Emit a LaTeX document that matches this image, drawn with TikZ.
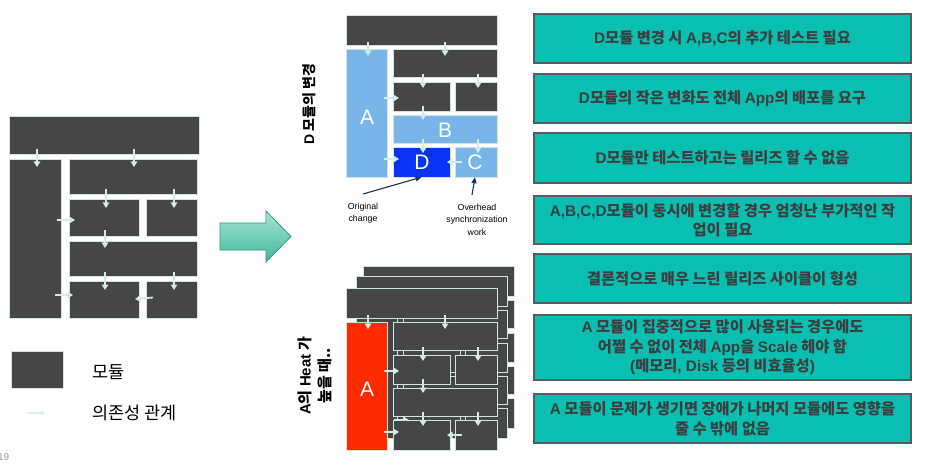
\documentclass[tikz,border=0pt]{standalone}
\usepackage{fontspec}
\setmainfont{Liberation Sans}
\newfontfamily\kr{Noto Sans CJK KR}
\usetikzlibrary{arrows.meta}
\definecolor{blk}{HTML}{464646}
\definecolor{mint}{HTML}{CDE6E0}
\definecolor{arr}{HTML}{D2ECE7}
\definecolor{lblue}{HTML}{79B5E8}
\definecolor{dblue}{HTML}{0A33F5}
\definecolor{hred}{HTML}{FF2A00}
\definecolor{tealbox}{HTML}{08BFB1}
\definecolor{boxtxt}{HTML}{3E3E3E}
\definecolor{boxedge}{HTML}{5A5A5A}
\definecolor{navy}{HTML}{17375E}
\definecolor{arrtop}{RGB}{168,228,214}
\definecolor{arrbot}{RGB}{64,184,160}
\definecolor{arredge}{RGB}{44,156,134}
\newcommand{\latn}[1]{{\rmfamily #1}}
\tikzset{
  mod/.style={fill=blk, draw=mint, line width=0.6pt},
  dep/.style={draw=arr, line width=1.8pt, -{Triangle[length=5.5pt,width=6.5pt]}},
  tbox/.style={fill=tealbox, draw=boxedge, line width=1.3pt, minimum width=377pt, inner sep=0pt,
    align=center, text=boxtxt, font=\kr\bfseries\fontsize{15.3}{19.5}\selectfont},
  blabel/.style={text=white, inner sep=0pt, font=\fontsize{21}{21}\selectfont},
  anno/.style={align=center, inner sep=0pt, font=\fontsize{8.8}{12.4}\selectfont},
  annoarrow/.style={draw=navy, line width=1.1pt, -{Triangle[length=6pt,width=5pt]}},
  vlabel/.style={rotate=90, align=center, inner sep=0pt, font=\kr\bfseries\fontsize{14}{20}\selectfont},
  legtext/.style={anchor=west, inner sep=0pt, font=\kr\fontsize{17.5}{20}\selectfont},
}
% one layer of the module diagram; #1,#2 origin, #3 A, #4 B, #5 D, #6 C fill colours
\newcommand{\modlayer}[6]{%
\begin{scope}[shift={(#1,#2)}]
  \path[mod] (0,0) rectangle (151,30);
  \path[mod,fill=#3] (0,34) rectangle (41,162);
  \path[mod] (47,34) rectangle (151,62);
  \path[mod] (47,67) rectangle (104,96);
  \path[mod] (109,67) rectangle (151,96);
  \path[mod,fill=#4] (47,100) rectangle (151,128);
  \path[mod,fill=#5] (47,132) rectangle (104,162);
  \path[mod,fill=#6] (109,132) rectangle (151,162);
  \draw[dep] (22,27) -- (22,41);
  \draw[dep] (99,27) -- (99,41);
  \draw[dep] (77,59) -- (77,73);
  \draw[dep] (132,59) -- (132,73);
  \draw[dep] (77,91) -- (77,105);
  \draw[dep] (77,124) -- (77,138);
  \draw[dep] (132,124) -- (132,138);
  \draw[dep] (38,83) -- (53,83);
  \draw[dep] (38,144) -- (53,144);
  \draw[dep] (116,147) -- (101,147);
\end{scope}}
\begin{document}
\begin{tikzpicture}[x=1pt,y=-1pt]
\useasboundingbox (0,0) rectangle (929,465);
\fill[white] (0,0) rectangle (929,465);

% ---------- left diagram ----------
\path[mod] (9,116) rectangle (199,154);
\path[mod] (9,159) rectangle (61,318);
\path[mod] (69,159) rectangle (197,194);
\path[mod] (69,199) rectangle (139,236);
\path[mod] (146,199) rectangle (197,236);
\path[mod] (69,241) rectangle (197,276);
\path[mod] (69,281) rectangle (139,318);
\path[mod] (146,281) rectangle (197,318);
\draw[dep] (37,149) -- (37,167);
\draw[dep] (134,149) -- (134,167);
\draw[dep] (106,189) -- (106,208);
\draw[dep] (174,189) -- (174,208);
\draw[dep] (105,230) -- (105,248);
\draw[dep] (105,272) -- (105,290);
\draw[dep] (174,272) -- (174,290);
\draw[dep] (57,220) -- (75,220);
\draw[dep] (55,295) -- (73,295);
\draw[dep] (153,297.5) -- (135,299);

% legend
\path[mod] (11,351) rectangle (63,388);
\node[legtext] (legmod) at (92,372) {모듈};
\coordinate (legA) at (27,413);
\coordinate (legB) at (45,413);
\draw[draw=arr!80, line width=1.4pt, -{Triangle[length=4pt,width=5pt]}] (legA) -- (legB);
\node[legtext] (legdep) at (92,413) {의존성 관계};
\node[anchor=east, inner sep=0pt, text=black!40, font=\fontsize{10}{10}\selectfont] (pg) at (9.5,457) {19};

% ---------- big arrow ----------
\path[draw=arredge, line width=0.8pt, top color=arrtop, bottom color=arrbot]
  (220,223) -- (266,223) -- (266,211) -- (291,236.5) -- (266,262) -- (266,250) -- (220,250) -- cycle;

% ---------- top-middle diagram ----------
\modlayer{346}{15}{lblue}{lblue}{dblue}{lblue}
\node[blabel] (labA) at (367,117) {A};
\node[blabel] (labB) at (445,130) {B};
\node[blabel] (labD) at (422,162) {D};
\node[blabel] (labC) at (475,162) {C};
\node[minimum width=57pt, minimum height=30pt, inner sep=0pt] (Dblk) at (425.5,162) {};
\node[minimum width=42pt, minimum height=30pt, inner sep=0pt] (Cblk) at (476,162) {};
\node[vlabel] (vl1) at (309,104) {\latn{D} 모듈의 변경};
\node[anno] (orig) at (363,213) {Original\\change};
\node[anno] (over) at (477,219.5) {Overhead\\synchronization\\work};
\coordinate (o1) at (363,194);
\coordinate (o2) at (472,195);
\draw[annoarrow] (o1) -- ([xshift=-4pt]Dblk.south);
\draw[annoarrow] (o2) -- ([xshift=-1pt]Cblk.south);

% ---------- bottom-middle diagram (stacked) ----------
\modlayer{363}{266}{blk}{blk}{blk}{blk}
\modlayer{356}{276}{blk}{blk}{blk}{blk}
\modlayer{346}{288}{hred}{blk}{blk}{blk}
\node[blabel] (labA2) at (367,389) {A};
\node[vlabel, font=\kr\bfseries\fontsize{15}{20}\selectfont] (vl2) at (315,376) {\latn{A}의 \latn{Heat} 가\\높을 때..};

% ---------- right text boxes ----------
\node[tbox, minimum height=49pt] (b1) at (722.5,38.5) {\latn{D}모듈 변경 시 \latn{A,B,C}의 추가 테스트 필요};
\node[tbox, minimum height=49pt] (b2) at (722.5,98.5) {\latn{D}모듈의 작은 변화도 전체 \latn{App}의 배포를 요구};
\node[tbox, minimum height=50pt] (b3) at (722.5,158) {\latn{D}모듈만 테스트하고는 릴리즈 할 수 없음};
\node[tbox, minimum height=48pt] (b4) at (722.5,220) {\latn{A,B,C,D}모듈이 동시에 변경할 경우 엄청난 부가적인 작\\업이 필요};
\node[tbox, minimum height=49pt] (b5) at (722.5,278.5) {결론적으로 매우 느린 릴리즈 사이클이 형성};
\node[tbox, minimum height=65pt] (b6) at (722.5,347.5) {\latn{A} 모듈이 집중적으로 많이 사용되는 경우에도\\어쩔 수 없이 전체 \latn{App}을 \latn{Scale} 헤야 함\\\latn{(}메모리\latn{, Disk} 등의 비효율성\latn{)}};
\node[tbox, minimum height=49pt] (b7) at (722.5,418.5) {\latn{A} 모듈이 문제가 생기면 장애가 나머지 모듈에도 영향을\\줄 수 밖에 없음};
\end{tikzpicture}
\end{document}
